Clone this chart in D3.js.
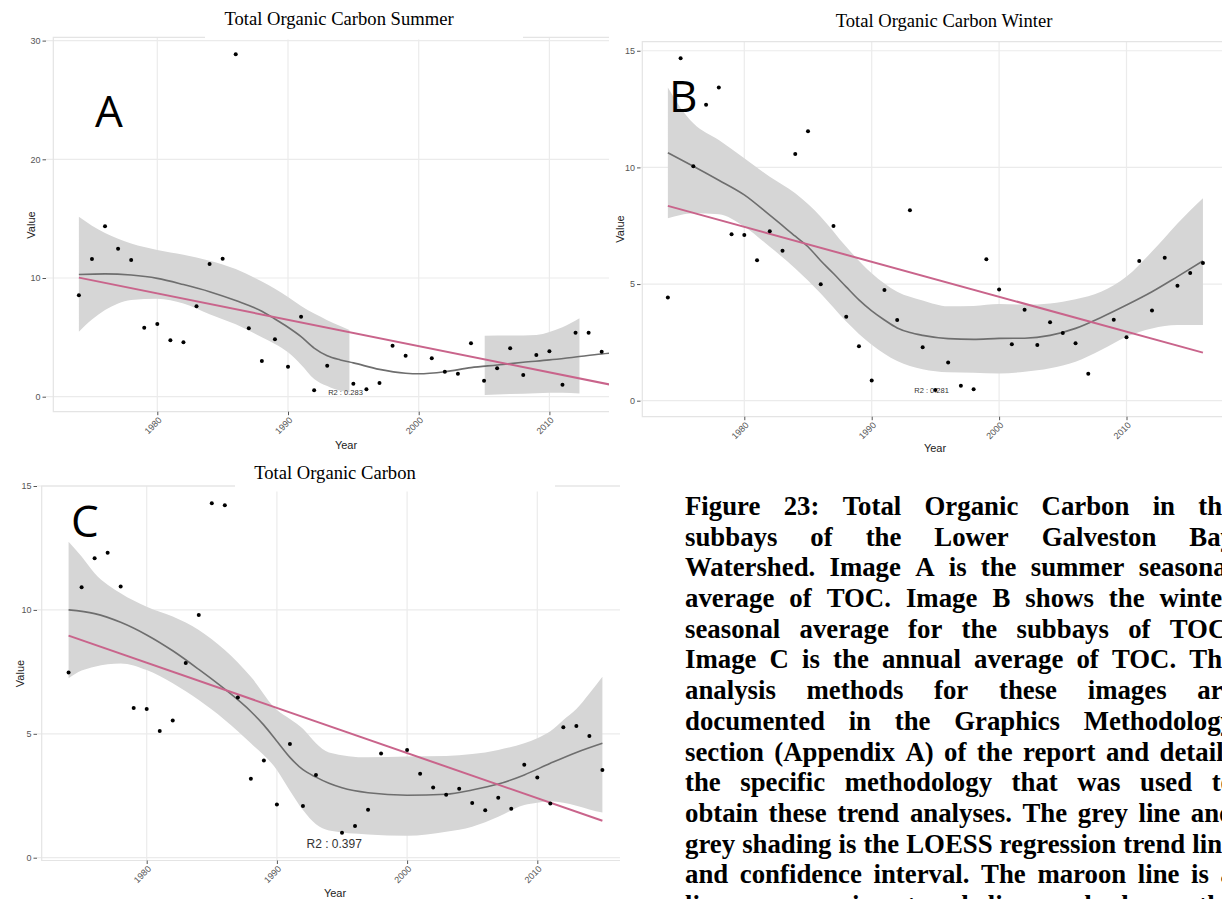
<!DOCTYPE html>
<html>
<head>
<meta charset="utf-8">
<script src="https://cdnjs.cloudflare.com/ajax/libs/d3/7.8.5/d3.min.js"></script>
<style>
  html, body { margin: 0; padding: 0; background: #ffffff; }
  svg { display: block; }
</style>
</head>
<body>
<svg id="fig" width="1222" height="899"></svg>
<script>
// ---------------- Summer seasonal average (panel A) ----------------
const summerYears = [1974,1975,1976,1977,1978,1979,1980,1981,1982,1983,1984,1985,1986,1987,1988,1989,1990,1991,1992,1993,
  1995,1996,1997,1998,1999,2001,2002,2003,2004,2005,2006,2007,2008,2009,2010,2011,2012,2013,2014];
const summerTOC = [8.54,11.6,14.35,12.47,11.52,5.81,6.12,4.75,4.58,7.61,11.18,11.63,28.85,5.76,3.0,4.83,2.53,6.74,0.54,2.61,
  1.10,0.62,1.15,4.30,3.46,3.23,2.11,1.94,4.50,1.35,2.39,4.08,1.83,3.51,3.82,1.01,5.39,5.39,3.79];
const summerLoessYears = [1974,1976,1978,1980,1982,1984,1986,1988,1989,1990,1991,1992,1993,1994,1995,1997,1999,2000,2002,2004,2006,2008,2010,2012,2014,2016];
const summerLoess = [10.3,10.35,10.25,9.97,9.45,8.85,8.1,7.2,6.55,5.85,5.06,4.1,3.45,3.1,2.85,2.3,1.98,1.93,2.1,2.45,2.67,2.9,3.1,3.35,3.6,3.8];
// confidence band: two separate pieces, null marks the break
const summerBandYears = [1974,1975,1976,1977,1978,1980,1982,1984,1986,1988,1989,1990,1991,1992,1993,1994,1994.7,2000,2005.05,2007,2009,2010,2011,2012.3];
const summerBandLo = [5.48,6.5,7.3,7.85,8.15,8.25,7.85,6.95,6.1,5.0,4.45,3.75,2.7,1.5,0.9,0.5,0.4,null,0.14,0.22,0.3,0.34,0.33,0.28];
const summerBandHi = [15.15,14.4,13.8,13.3,12.9,12.35,11.95,11.45,10.75,9.7,9.1,8.4,7.65,7.0,6.45,5.95,5.62,null,5.14,5.15,5.2,5.45,5.85,6.6];
const summerFitYears = [1974, 2016];
const summerFit = [10.03, 0.72];
const summerR2 = "R2 : 0.283";

// ---------------- Winter seasonal average (panel B) ----------------
const winterYears = [1974,1975,1976,1977,1978,1979,1980,1981,1982,1983,1984,1985,1986,1987,1988,1989,1990,1991,1992,1993,
  1994,1995,1996,1997,1998,1999,2000,2001,2002,2003,2004,2005,2006,2007,2009,2010,2011,2012,2013,2014,2015,2016];
const winterTOC = [4.42,14.68,10.05,12.69,13.42,7.13,7.10,6.02,7.26,6.43,10.57,11.55,4.99,7.49,3.6,2.33,0.87,4.74,3.46,8.16,
  2.29,0.46,1.64,0.64,0.49,6.06,4.77,2.42,3.9,2.39,3.36,2.9,2.46,1.16,3.47,2.72,5.99,3.87,6.13,4.93,5.47,5.9];
const winterLoessYears = [1974,1976,1978,1980,1982,1984,1985,1986,1987,1988,1989,1990,1991,1992,1993,1994,1996,1998,2000,2002,2004,2006,2008,2010,2012,2014,2016];
const winterLoess = [10.63,10.05,9.45,8.82,7.95,7.05,6.6,6.0,5.45,4.88,4.32,3.85,3.46,3.12,2.92,2.8,2.66,2.63,2.67,2.68,2.8,3.1,3.57,4.1,4.67,5.32,5.99];
const winterBandYears = [1974,1975,1976,1978,1980,1982,1984,1986,1988,1990,1992,1994,1996,1998,2000,2002,2004,2006,2008,2010,2012,2014,2016];
const winterBandLo = [7.82,7.96,8.03,7.99,7.46,6.6,5.67,4.6,3.4,2.4,1.7,1.35,1.22,1.2,1.17,1.24,1.39,1.67,2.17,2.74,3.1,3.24,3.24];
const winterBandHi = [13.42,12.55,11.89,11.17,10.39,9.6,8.89,7.89,6.6,5.46,4.67,4.3,4.05,4.06,4.14,4.12,4.17,4.35,4.67,5.32,6.39,7.6,8.68];
const winterFitYears = [1974, 2016];
const winterFit = [8.35, 2.06];
const winterR2 = "R2 : 0.281";

// ---------------- Annual average (panel C) ----------------
const annualYears = [1974,1975,1976,1977,1978,1979,1980,1981,1982,1983,1984,1985,1986,1987,1988,1989,1990,1991,1992,1993,
  1995,1996,1997,1998,2000,2001,2002,2003,2004,2005,2006,2007,2008,2009,2010,2011,2012,2013,2014,2015];
const annualTOC = [7.47,10.91,12.08,12.31,10.94,6.04,6.0,5.11,5.54,7.86,9.79,14.30,14.22,6.46,3.19,3.92,2.15,4.59,2.09,3.34,
  1.01,1.28,1.94,4.21,4.35,3.39,2.83,2.54,2.78,2.21,1.91,2.42,1.98,3.75,3.24,2.19,5.26,5.31,4.91,3.54];
const annualLoessYears = [1974,1976,1978,1980,1982,1984,1986,1988,1989,1990,1991,1992,1993,1994,1995,1997,2000,2003,2005,2007,2009,2011,2013,2015];
const annualLoess = [10.0,9.85,9.5,8.99,8.35,7.6,6.8,5.9,5.35,4.7,4.05,3.55,3.25,3.0,2.82,2.62,2.52,2.56,2.73,2.97,3.34,3.81,4.25,4.62];
const annualBandYears = [1974,1975,1976,1978,1980,1982,1984,1986,1988,1990,1991,1992,1993,1994,1997,2000,2003,2005,2007,2009,2010,2011,2012,2013,2014,2015];
const annualBandLo = [7.24,7.55,7.71,7.84,7.57,7.04,6.36,5.56,4.62,3.54,2.7,1.92,1.35,1.1,0.94,0.89,1.05,1.25,1.65,2.13,2.22,2.28,2.22,2.1,1.95,1.82];
const annualBandHi = [12.75,12.15,11.48,10.67,10.13,9.73,9.19,8.38,7.3,5.96,5.6,5.2,4.62,4.25,4.05,4.08,4.1,4.18,4.35,4.62,4.82,5.1,5.56,6.0,6.63,7.3];
const annualFitYears = [1974, 2015];
const annualFit = [8.96, 1.49];
const annualR2 = "R2 : 0.397";

// ---------------- shared axis ticks ----------------
const yearTicks = [1980, 1990, 2000, 2010];
const summerValueTicks = [0, 10, 20, 30];
const seasonValueTicks = [0, 5, 10, 15];

// ---------------- caption ----------------
const captionLines = [
  "Figure 23: Total Organic Carbon in the",
  "subbays of the Lower Galveston Bay",
  "Watershed. Image A is the summer seasonal",
  "average of TOC. Image B shows the winter",
  "seasonal average for the subbays of TOC.",
  "Image C is the annual average of TOC. The",
  "analysis methods for these images are",
  "documented in the Graphics Methodology",
  "section (Appendix A) of the report and details",
  "the specific methodology that was used to",
  "obtain these trend analyses. The grey line and",
  "grey shading is the LOESS regression trend line",
  "and confidence interval. The maroon line is a",
  "linear regression trend line and shows the"
];

// =====================================================================
const svg = d3.select("#fig");
const defs = svg.append("defs");

const SANS = "'Liberation Sans', Arial, sans-serif";
const SERIF = "'Liberation Serif', 'Times New Roman', serif";
const GRID = "#ebebeb";
const BAND = "#d6d6d6";
const LOESS = "#6e6e6e";
const FIT = "#c9648b";

function zip(xs, ys) { return xs.map((v, i) => ({ yr: v, v: ys[i] })); }
function zipBand(xs, lo, hi) { return xs.map((v, i) => ({ yr: v, lo: lo[i], hi: hi[i] })); }

function drawPanel(p) {
  const x = d3.scaleLinear().domain([1980, 2010]).range(p.xRange);
  const y = d3.scaleLinear().domain([0, p.yMax]).range(p.yRange);
  const g = svg.append("g");

  const clipId = "clip-" + p.id;
  defs.append("clipPath").attr("id", clipId).append("rect")
    .attr("x", p.gridLeft).attr("y", p.top - 4)
    .attr("width", p.clipRight - p.gridLeft).attr("height", p.bottom - p.top + 8);

  const plot = g.append("g").attr("clip-path", `url(#${clipId})`);

  // horizontal grid
  plot.selectAll("line.hg").data(p.yTicks).join("line").attr("class", "hg")
    .attr("x1", p.gridLeft).attr("x2", p.clipRight)
    .attr("y1", d => y(d)).attr("y2", d => y(d))
    .attr("stroke", GRID).attr("stroke-width", 1.2);
  // vertical grid
  plot.selectAll("line.vg").data(yearTicks).join("line").attr("class", "vg")
    .attr("x1", d => x(d)).attr("x2", d => x(d))
    .attr("y1", p.top).attr("y2", p.bottom)
    .attr("stroke", GRID).attr("stroke-width", 1.2);
  // outline
  plot.append("path")
    .attr("d", `M${p.clipRight},${p.top}H${p.borderLeft}V${p.bottom}H${p.clipRight}`)
    .attr("fill", "none").attr("stroke", "#e4e4e4").attr("stroke-width", 1.2);

  // LOESS confidence band
  const area = d3.area()
    .defined(d => d.lo != null)
    .x(d => x(d.yr)).y0(d => y(d.lo)).y1(d => y(d.hi))
    .curve(d3.curveMonotoneX);
  plot.append("path").datum(zipBand(p.bandYears, p.bandLo, p.bandHi))
    .attr("d", area).attr("fill", BAND);

  // LOESS curve
  const line = d3.line().x(d => x(d.yr)).y(d => y(d.v)).curve(d3.curveMonotoneX);
  plot.append("path").datum(zip(p.loessYears, p.loess))
    .attr("d", line).attr("fill", "none").attr("stroke", LOESS).attr("stroke-width", 1.6);

  // linear fit
  const straight = d3.line().x(d => x(d.yr)).y(d => y(d.v));
  plot.append("path").datum(zip(p.fitYears, p.fit))
    .attr("d", straight).attr("fill", "none").attr("stroke", FIT).attr("stroke-width", 2);

  // R2 annotation
  plot.append("text")
    .attr("x", x(p.r2At[0])).attr("y", y(p.r2At[1]))
    .attr("text-anchor", "middle").attr("dominant-baseline", "central")
    .attr("font-family", SANS).attr("font-size", p.r2Size).attr("fill", "#333")
    .text(p.r2);

  // observations
  plot.selectAll("circle").data(zip(p.years, p.values)).join("circle")
    .attr("cx", d => x(d.yr)).attr("cy", d => y(d.v)).attr("r", 2)
    .attr("fill", "#000");

  // y axis
  const ya = g.append("g").attr("transform", `translate(${p.gridLeft},0)`)
    .call(d3.axisLeft(y).tickValues(p.yTicks).tickSize(3.5).tickPadding(2));
  ya.select(".domain").remove();
  ya.selectAll(".tick line").attr("stroke", "#555");
  ya.selectAll(".tick text").attr("font-family", SANS).attr("font-size", 9).attr("fill", "#555");

  // x axis
  const xa = g.append("g").attr("transform", `translate(0,${p.bottom})`)
    .call(d3.axisBottom(x).tickValues(yearTicks).tickSize(3.5).tickFormat(d3.format("d")));
  xa.select(".domain").remove();
  xa.selectAll(".tick line").attr("stroke", "#555");
  xa.selectAll(".tick text")
    .attr("x", 0).attr("y", 0).attr("dy", 0)
    .attr("text-anchor", "end")
    .attr("transform", "translate(4.5,9) rotate(-45)")
    .attr("font-family", SANS).attr("font-size", 9).attr("fill", "#555");

  // axis titles
  g.append("text").attr("x", p.yearLabel[0]).attr("y", p.yearLabel[1])
    .attr("text-anchor", "middle").attr("font-family", SANS).attr("font-size", 11).attr("fill", "#222")
    .text("Year");
  g.append("text")
    .attr("transform", `translate(${p.valueLabel[0]},${p.valueLabel[1]}) rotate(-90)`)
    .attr("text-anchor", "middle").attr("dominant-baseline", "central")
    .attr("font-family", SANS).attr("font-size", 11).attr("fill", "#222")
    .text("Value");

  // title with its white backing strip
  if (p.titleBox) {
    g.append("rect").attr("x", p.titleBox[0]).attr("y", p.titleBox[1])
      .attr("width", p.titleBox[2] - p.titleBox[0]).attr("height", p.titleBox[3] - p.titleBox[1])
      .attr("fill", "#fff");
  }
  g.append("text").attr("x", p.titlePos[0]).attr("y", p.titlePos[1])
    .attr("text-anchor", "middle").attr("font-family", SERIF).attr("font-size", 18.6).attr("fill", "#000")
    .text(p.title);

  // panel letter
  g.append("text").attr("x", p.letterPos[0]).attr("y", p.letterPos[1])
    .attr("font-family", "'Open Sans', 'Liberation Sans', sans-serif").attr("font-size", 44).attr("fill", "#000")
    .text(p.letter);
}

drawPanel({
  id: "summer", title: "Total Organic Carbon Summer", letter: "A",
  years: summerYears, values: summerTOC,
  loessYears: summerLoessYears, loess: summerLoess,
  bandYears: summerBandYears, bandLo: summerBandLo, bandHi: summerBandHi,
  fitYears: summerFitYears, fit: summerFit, r2: summerR2, r2At: [1994.4, 0.35], r2Size: 7.5,
  yMax: 30, yTicks: summerValueTicks,
  xRange: [157.3, 549.4], yRange: [396.7, 40.6],
  gridLeft: 46, borderLeft: 53.3, clipRight: 609, top: 37.3, bottom: 411.7,
  yearLabel: [346, 449], valueLabel: [31, 225],
  titlePos: [339, 25], titleBox: [205, 0, 523, 39.5], letterPos: [95, 127.3]
});

drawPanel({
  id: "winter", title: "Total Organic Carbon Winter", letter: "B",
  years: winterYears, values: winterTOC,
  loessYears: winterLoessYears, loess: winterLoess,
  bandYears: winterBandYears, bandLo: winterBandLo, bandHi: winterBandHi,
  fitYears: winterFitYears, fit: winterFit, r2: winterR2, r2At: [1994.7, 0.45], r2Size: 7.5,
  yMax: 15, yTicks: seasonValueTicks,
  xRange: [744.3, 1126.5], yRange: [400.7, 50.75],
  gridLeft: 640.5, borderLeft: 642.3, clipRight: 1222, top: 41.7, bottom: 416.7,
  yearLabel: [935, 452], valueLabel: [620, 229],
  titlePos: [944, 26.5], titleBox: null, letterPos: [669, 111.7]
});

drawPanel({
  id: "annual", title: "Total Organic Carbon", letter: "C",
  years: annualYears, values: annualTOC,
  loessYears: annualLoessYears, loess: annualLoess,
  bandYears: annualBandYears, bandLo: annualBandLo, bandHi: annualBandHi,
  fitYears: annualFitYears, fit: annualFit, r2: annualR2, r2At: [1994.4, 0.55], r2Size: 12,
  yMax: 15, yTicks: seasonValueTicks,
  xRange: [146.7, 537.3], yRange: [857.7, 486],
  gridLeft: 37, borderLeft: 41.7, clipRight: 620, top: 486, bottom: 860.5,
  yearLabel: [335, 897], valueLabel: [20, 673.5],
  titlePos: [335, 479], titleBox: [235, 462, 555, 491.5], letterPos: [71, 536.5]
});

// ---------------- justified caption block ----------------
const capLeft = 685, capWidth = 549, capFirst = 515, capLead = 30.69;
const cap = svg.append("g")
  .attr("font-family", SERIF).attr("font-weight", "bold").attr("font-size", 26.8).attr("fill", "#000");
captionLines.forEach((lineText, i) => {
  const words = lineText.split(" ");
  const widths = words.map(w => {
    const probe = cap.append("text").text(w);
    const len = probe.node().getComputedTextLength();
    probe.remove();
    return len;
  });
  const gap = (capWidth - d3.sum(widths)) / (words.length - 1);
  const t = cap.append("text").attr("y", capFirst + i * capLead);
  let cx = capLeft;
  words.forEach((w, j) => {
    t.append("tspan").attr("x", cx).text(w);
    cx += widths[j] + gap;
  });
});
</script>
</body>
</html>
